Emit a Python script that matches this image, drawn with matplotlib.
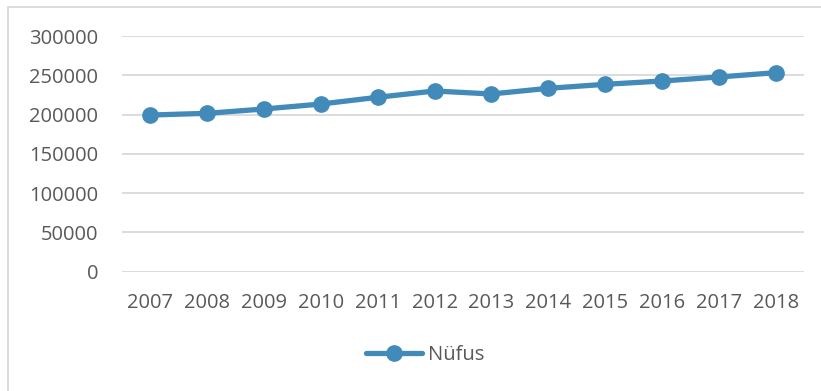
import matplotlib
matplotlib.use("Agg")
import matplotlib.pyplot as plt
from matplotlib.patches import Rectangle

years = ['2007', '2008', '2009', '2010', '2011', '2012',
         '2013', '2014', '2015', '2016', '2017', '2018']
nufus = [199400, 201600, 207100, 213400, 222000, 230000,
         226200, 233400, 238500, 242700, 247800, 253300]
yticks = [0, 50000, 100000, 150000, 200000, 250000, 300000]

plt.rcParams['font.family'] = ['Open Sans', 'DejaVu Sans']
txt = '#595959'
blue = '#418ab9'

fig = plt.figure(figsize=(8.21, 3.91), dpi=100)
ax = fig.add_axes([122 / 821, 1 - 271.7 / 391, (804 - 122) / 821, (271.7 - 36) / 391])

x = range(len(years))
ax.plot(x, nufus, color=blue, lw=3.8, marker='o', ms=11, label='Nüfus',
        solid_capstyle='round', zorder=3)

ax.set_xlim(-0.5, len(years) - 0.5)
ax.set_ylim(0, 300000)
ax.set_yticks(yticks)
ax.set_yticklabels([str(v) for v in yticks])
ax.set_xticks(list(x))
ax.set_xticklabels(years)
ax.grid(axis='y', color='#d9d9d9', lw=1.3)
ax.set_axisbelow(True)
for s in ax.spines.values():
    s.set_visible(False)
ax.tick_params(axis='both', length=0, labelsize=14.5, colors=txt)
ax.tick_params(axis='y', pad=17)
ax.tick_params(axis='x', pad=15)

# outer chart border
fig.patches.append(Rectangle((8 / 821, -0.05), 1.1, 1 - 6.5 / 391 + 0.05,
                             transform=fig.transFigure, fill=False,
                             edgecolor='#d9d9d9', lw=1.3))

leg = fig.legend(loc='center', bbox_to_anchor=(425 / 821, 1 - 355 / 391),
                 frameon=False, fontsize=14.5, handlelength=2.8,
                 handletextpad=0.25, markerscale=1.0)
for t in leg.get_texts():
    t.set_color(txt)

fig.savefig('out.png', dpi=100)
